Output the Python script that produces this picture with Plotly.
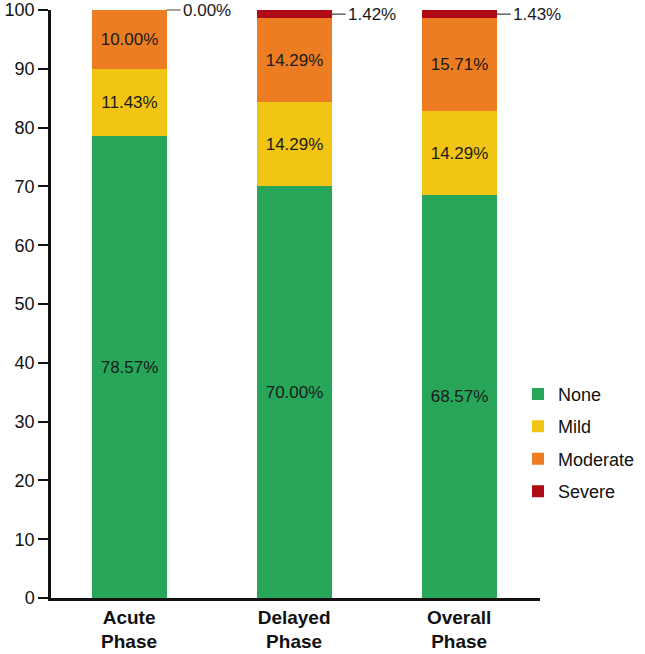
import plotly.graph_objects as go

categories = ["Acute<br>Phase", "Delayed<br>Phase", "Overall<br>Phase"]
none_vals = [78.57, 70.00, 68.57]
mild_vals = [11.43, 14.29, 14.29]
moderate_vals = [10.00, 14.29, 15.71]
severe_vals = [0.00, 1.42, 1.43]
series_names = ["None", "Mild", "Moderate", "Severe"]
colors = ["#27A65A", "#F2C514", "#EC7D22", "#B00A16"]

x = [0, 1, 2]
bar_w = 0.455
fig = go.Figure()
for name, vals, col in zip(series_names, [none_vals, mild_vals, moderate_vals, severe_vals], colors):
    inside = name != "Severe"
    fig.add_trace(go.Bar(
        x=x, y=vals, name=name, width=bar_w, legendgroup=name,
        marker=dict(color=col, line=dict(width=0)),
        text=[f"{v:.2f}%" for v in vals] if inside else None,
        textposition="inside" if inside else "none",
        insidetextanchor="middle",
        constraintext="none",
        textfont=dict(family="Liberation Sans, Arial", size=17, color="#1a1a1a"),
        textangle=0,
    ))

# severe labels with leader lines
for i in range(3):
    top = none_vals[i] + mild_vals[i] + moderate_vals[i] + severe_vals[i]
    fig.add_annotation(
        x=i + bar_w / 2, y=top - severe_vals[i] / 2 if severe_vals[i] > 0 else top,
        xref="x", yref="y",
        text=f"{severe_vals[i]:.2f}%",
        showarrow=True, arrowhead=0, arrowwidth=1.2, arrowcolor="#444",
        ax=14, ay=0, standoff=0,
        xanchor="left",
        font=dict(family="Liberation Sans, Arial", size=17, color="#1a1a1a"),
    )

fig.update_layout(
    barmode="stack",
    width=645, height=654,
    margin=dict(l=51, r=105, t=10, b=56, autoexpand=False),
    plot_bgcolor="white", paper_bgcolor="white",
    showlegend=True,
    legend=dict(
        x=0.955, y=0.378, xanchor="left", yanchor="top",
        font=dict(family="Liberation Sans, Arial", size=18, color="#111"),
        traceorder="grouped", tracegroupgap=6, itemwidth=30,
        bgcolor="rgba(0,0,0,0)",
    ),
    xaxis=dict(
        range=[-0.473, 2.49], automargin=False,
        tickmode="array", tickvals=x, ticktext=[f"<b>{c}</b>" for c in categories],
        tickfont=dict(family="Liberation Sans, Arial", size=19, color="#111"),
        showline=True, linecolor="#111", linewidth=2.5,
        ticks="", showgrid=False, zeroline=False,
    ),
    yaxis=dict(
        range=[0, 100], tick0=0, dtick=10, automargin=False,
        tickfont=dict(family="Liberation Sans, Arial", size=18, color="#111"),
        showline=True, linecolor="#111", linewidth=2.5,
        ticks="outside", ticklen=10, tickwidth=2, tickcolor="#111",
        showgrid=False, zeroline=False,
    ),
    bargap=0,
)

fig.write_html("out.html")
